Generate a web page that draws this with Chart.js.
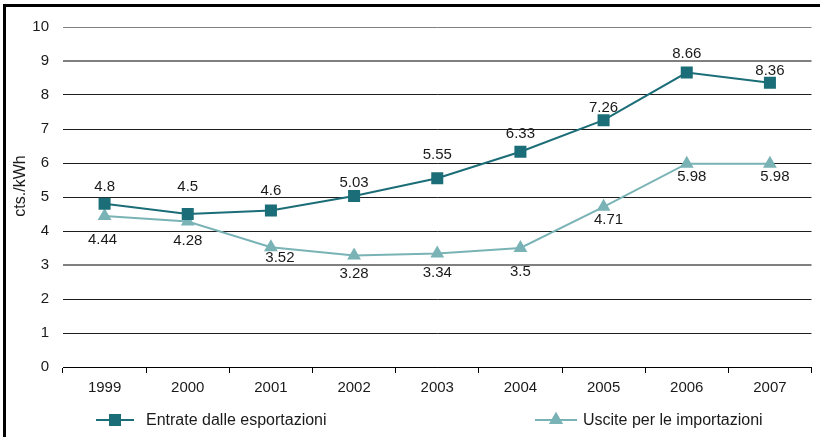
<!DOCTYPE html>
<html>
<head>
<meta charset="utf-8">
<script src="https://cdn.jsdelivr.net/npm/chart.js@4/dist/chart.umd.min.js"></script>
<style>
  html, body { margin: 0; padding: 0; background: #fff; }
  #wrap { width: 820px; height: 437px; position: relative; }
</style>
</head>
<body>
<div id="wrap"><canvas id="priceChart" width="820" height="437"></canvas></div>
<script>
const years = ['1999', '2000', '2001', '2002', '2003', '2004', '2005', '2006', '2007'];
const exportRevenue = [4.8, 4.5, 4.6, 5.03, 5.55, 6.33, 7.26, 8.66, 8.36];
const importCost = [4.44, 4.28, 3.52, 3.28, 3.34, 3.5, 4.71, 5.98, 5.98];

const darkTeal = '#1b6d77';
const lightTeal = '#7ab3b6';
const font = '"Liberation Sans", Arial, sans-serif';

// value labels, nudged like in the original (first series above, second below)
const pointLabels = {
    id: 'pointLabels',
    afterDatasetsDraw(chart, args, opts) {
        const ctx = chart.ctx;
        ctx.save();
        ctx.font = '15px ' + font;
        ctx.fillStyle = '#1a1a1a';
        ctx.textAlign = 'center';
        ctx.textBaseline = 'middle';
        chart.data.datasets.forEach((ds, i) => {
            const meta = chart.getDatasetMeta(i);
            meta.data.forEach((pt, j) => {
                const dx = opts.dx[i][j];
                const dy = opts.dy[i][j];
                ctx.fillText(String(ds.data[j]), pt.x + dx, pt.y + dy);
            });
        });
        ctx.restore();
    }
};

// frame lines, axis title and the bottom legend
const frameAndLegend = {
    id: 'frameAndLegend',
    afterDraw(chart) {
        const ctx = chart.ctx;
        ctx.save();
        ctx.fillStyle = '#000';
        ctx.fillRect(3, 4, 817, 3);
        ctx.fillRect(3, 4, 3, 433);

        ctx.save();
        ctx.translate(21, 186);
        ctx.rotate(-Math.PI / 2);
        ctx.fillStyle = '#1a1a1a';
        ctx.font = '16px ' + font;
        ctx.textAlign = 'center';
        ctx.textBaseline = 'middle';
        ctx.fillText('cts./kWh', 0, 0);
        ctx.restore();

        const items = [
            { x1: 96, x2: 134, tx: 146, style: 'rect' },
            { x1: 535, x2: 577, tx: 583, style: 'triangle' }
        ];
        const y = 420;
        chart.data.datasets.forEach((ds, i) => {
            const it = items[i];
            ctx.strokeStyle = ds.borderColor;
            ctx.lineWidth = 2;
            ctx.beginPath();
            ctx.moveTo(it.x1, y);
            ctx.lineTo(it.x2, y);
            ctx.stroke();
            ctx.fillStyle = ds.backgroundColor;
            Chart.helpers.drawPoint(ctx, {
                pointStyle: it.style, radius: ds.pointRadius, rotation: 0, borderWidth: 0
            }, (it.x1 + it.x2) / 2, y);
            ctx.fill();
            ctx.fillStyle = '#1a1a1a';
            ctx.font = '16px ' + font;
            ctx.textAlign = 'left';
            ctx.textBaseline = 'middle';
            ctx.fillText(ds.label, it.tx, y + 1);
        });
        ctx.restore();
    }
};

new Chart(document.getElementById('priceChart').getContext('2d'), {
    type: 'line',
    data: {
        labels: years,
        datasets: [{
            label: 'Entrate dalle esportazioni',
            data: exportRevenue,
            borderColor: darkTeal,
            backgroundColor: darkTeal,
            borderWidth: 2,
            pointStyle: 'rect',
            pointRadius: 8.5,
            pointBorderWidth: 0,
            tension: 0
        }, {
            label: 'Uscite per le importazioni',
            data: importCost,
            borderColor: lightTeal,
            backgroundColor: lightTeal,
            borderWidth: 2,
            pointStyle: 'triangle',
            pointRadius: 8,
            pointBorderWidth: 0,
            tension: 0
        }]
    },
    options: {
        responsive: false,
        animation: false,
        devicePixelRatio: 1,
        layout: { padding: { top: 27, left: 6, right: 2, bottom: 0 } },
        plugins: {
            legend: { display: false },
            tooltip: { enabled: false },
            pointLabels: {
                dx: [
                    [0, 0, 0, 0, 0, 0, 0, 0, 0],
                    [-2, 0, 9, 0, 0, 0, 5, 5, 5]
                ],
                dy: [
                    [-17, -27, -20, -13, -23, -18, -12, -19, -12],
                    [24, 19, 11, 18, 19, 24, 13, 13, 13]
                ]
            }
        },
        scales: {
            x: {
                offset: true,
                afterFit: s => { s.height = 70; },
                grid: {
                    offset: true,
                    drawOnChartArea: false,
                    drawTicks: true,
                    tickLength: 6,
                    color: '#000'
                },
                border: { display: true, color: '#000', width: 1 },
                ticks: {
                    padding: 6,
                    color: '#1a1a1a',
                    font: { family: font, size: 15 }
                }
            },
            y: {
                min: 0,
                max: 10,
                afterFit: s => { s.width = 57; },
                ticks: {
                    stepSize: 1,
                    padding: 14,
                    color: '#1a1a1a',
                    font: { family: font, size: 15 }
                },
                grid: {
                    drawTicks: false,
                    color: c => ([3, 9, 10].includes(c.tick.value) ? '#808080' : '#1e1e1e'),
                    lineWidth: c => ([3, 9].includes(c.tick.value) ? 2 : 1)
                },
                border: { display: false },
                title: { display: false }
            }
        }
    },
    plugins: [pointLabels, frameAndLegend]
});
</script>
</body>
</html>
